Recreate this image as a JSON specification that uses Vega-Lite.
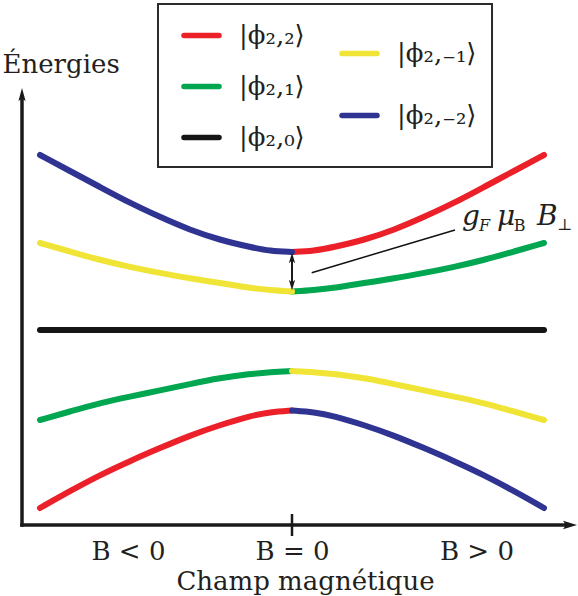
{
  "$schema": "https://vega.github.io/schema/vega-lite/v6.json",
  "width": 556,
  "height": 525,
  "autosize": {"type": "none"},
  "padding": {"left": 22, "top": 0, "right": 0, "bottom": 71},
  "background": "white",
  "config": {"view": {"stroke": null}, "font": "DejaVu Serif"},
  "datasets": {
    "curves": [
      {"s": "|ϕ₂,₋₂⟩", "g": "a", "B": -1, "E": 1.75},
      {"s": "|ϕ₂,₋₂⟩", "g": "a", "B": -0.881, "E": 1.59},
      {"s": "|ϕ₂,₋₂⟩", "g": "a", "B": -0.762, "E": 1.43},
      {"s": "|ϕ₂,₋₂⟩", "g": "a", "B": -0.643, "E": 1.27},
      {"s": "|ϕ₂,₋₂⟩", "g": "a", "B": -0.524, "E": 1.13},
      {"s": "|ϕ₂,₋₂⟩", "g": "a", "B": -0.405, "E": 1.0},
      {"s": "|ϕ₂,₋₂⟩", "g": "a", "B": -0.286, "E": 0.9},
      {"s": "|ϕ₂,₋₂⟩", "g": "a", "B": -0.167, "E": 0.83},
      {"s": "|ϕ₂,₋₂⟩", "g": "a", "B": -0.087, "E": 0.79},
      {"s": "|ϕ₂,₋₂⟩", "g": "a", "B": 0, "E": 0.78},
      {"s": "|ϕ₂,₂⟩", "g": "b", "B": 0, "E": 0.78},
      {"s": "|ϕ₂,₂⟩", "g": "b", "B": 0.087, "E": 0.79},
      {"s": "|ϕ₂,₂⟩", "g": "b", "B": 0.167, "E": 0.83},
      {"s": "|ϕ₂,₂⟩", "g": "b", "B": 0.286, "E": 0.9},
      {"s": "|ϕ₂,₂⟩", "g": "b", "B": 0.405, "E": 1.0},
      {"s": "|ϕ₂,₂⟩", "g": "b", "B": 0.524, "E": 1.13},
      {"s": "|ϕ₂,₂⟩", "g": "b", "B": 0.643, "E": 1.27},
      {"s": "|ϕ₂,₂⟩", "g": "b", "B": 0.762, "E": 1.43},
      {"s": "|ϕ₂,₂⟩", "g": "b", "B": 0.881, "E": 1.59},
      {"s": "|ϕ₂,₂⟩", "g": "b", "B": 1, "E": 1.75},
      {"s": "|ϕ₂,₋₁⟩", "g": "c", "B": -1, "E": 0.87},
      {"s": "|ϕ₂,₋₁⟩", "g": "c", "B": -0.881, "E": 0.785},
      {"s": "|ϕ₂,₋₁⟩", "g": "c", "B": -0.762, "E": 0.7},
      {"s": "|ϕ₂,₋₁⟩", "g": "c", "B": -0.643, "E": 0.63},
      {"s": "|ϕ₂,₋₁⟩", "g": "c", "B": -0.524, "E": 0.57},
      {"s": "|ϕ₂,₋₁⟩", "g": "c", "B": -0.405, "E": 0.515},
      {"s": "|ϕ₂,₋₁⟩", "g": "c", "B": -0.286, "E": 0.47},
      {"s": "|ϕ₂,₋₁⟩", "g": "c", "B": -0.167, "E": 0.42},
      {"s": "|ϕ₂,₋₁⟩", "g": "c", "B": -0.087, "E": 0.4},
      {"s": "|ϕ₂,₋₁⟩", "g": "c", "B": 0, "E": 0.385},
      {"s": "|ϕ₂,₁⟩", "g": "d", "B": 0, "E": 0.385},
      {"s": "|ϕ₂,₁⟩", "g": "d", "B": 0.087, "E": 0.4},
      {"s": "|ϕ₂,₁⟩", "g": "d", "B": 0.167, "E": 0.42},
      {"s": "|ϕ₂,₁⟩", "g": "d", "B": 0.286, "E": 0.47},
      {"s": "|ϕ₂,₁⟩", "g": "d", "B": 0.405, "E": 0.515},
      {"s": "|ϕ₂,₁⟩", "g": "d", "B": 0.524, "E": 0.57},
      {"s": "|ϕ₂,₁⟩", "g": "d", "B": 0.643, "E": 0.63},
      {"s": "|ϕ₂,₁⟩", "g": "d", "B": 0.762, "E": 0.7},
      {"s": "|ϕ₂,₁⟩", "g": "d", "B": 0.881, "E": 0.785},
      {"s": "|ϕ₂,₁⟩", "g": "d", "B": 1, "E": 0.87},
      {"s": "|ϕ₂,₀⟩", "g": "e", "B": -1, "E": 0},
      {"s": "|ϕ₂,₀⟩", "g": "e", "B": 1, "E": 0},
      {"s": "|ϕ₂,₁⟩", "g": "f", "B": -1, "E": -0.9},
      {"s": "|ϕ₂,₁⟩", "g": "f", "B": -0.881, "E": -0.815},
      {"s": "|ϕ₂,₁⟩", "g": "f", "B": -0.762, "E": -0.73},
      {"s": "|ϕ₂,₁⟩", "g": "f", "B": -0.643, "E": -0.665},
      {"s": "|ϕ₂,₁⟩", "g": "f", "B": -0.524, "E": -0.605},
      {"s": "|ϕ₂,₁⟩", "g": "f", "B": -0.405, "E": -0.54},
      {"s": "|ϕ₂,₁⟩", "g": "f", "B": -0.286, "E": -0.48},
      {"s": "|ϕ₂,₁⟩", "g": "f", "B": -0.167, "E": -0.44},
      {"s": "|ϕ₂,₁⟩", "g": "f", "B": -0.087, "E": -0.42},
      {"s": "|ϕ₂,₁⟩", "g": "f", "B": 0, "E": -0.41},
      {"s": "|ϕ₂,₋₁⟩", "g": "g", "B": 0, "E": -0.41},
      {"s": "|ϕ₂,₋₁⟩", "g": "g", "B": 0.087, "E": -0.42},
      {"s": "|ϕ₂,₋₁⟩", "g": "g", "B": 0.167, "E": -0.44},
      {"s": "|ϕ₂,₋₁⟩", "g": "g", "B": 0.286, "E": -0.48},
      {"s": "|ϕ₂,₋₁⟩", "g": "g", "B": 0.405, "E": -0.54},
      {"s": "|ϕ₂,₋₁⟩", "g": "g", "B": 0.524, "E": -0.605},
      {"s": "|ϕ₂,₋₁⟩", "g": "g", "B": 0.643, "E": -0.665},
      {"s": "|ϕ₂,₋₁⟩", "g": "g", "B": 0.762, "E": -0.73},
      {"s": "|ϕ₂,₋₁⟩", "g": "g", "B": 0.881, "E": -0.815},
      {"s": "|ϕ₂,₋₁⟩", "g": "g", "B": 1, "E": -0.9},
      {"s": "|ϕ₂,₂⟩", "g": "h", "B": -1, "E": -1.78},
      {"s": "|ϕ₂,₂⟩", "g": "h", "B": -0.881, "E": -1.61},
      {"s": "|ϕ₂,₂⟩", "g": "h", "B": -0.762, "E": -1.45},
      {"s": "|ϕ₂,₂⟩", "g": "h", "B": -0.643, "E": -1.31},
      {"s": "|ϕ₂,₂⟩", "g": "h", "B": -0.524, "E": -1.18},
      {"s": "|ϕ₂,₂⟩", "g": "h", "B": -0.405, "E": -1.055},
      {"s": "|ϕ₂,₂⟩", "g": "h", "B": -0.286, "E": -0.95},
      {"s": "|ϕ₂,₂⟩", "g": "h", "B": -0.167, "E": -0.86},
      {"s": "|ϕ₂,₂⟩", "g": "h", "B": -0.087, "E": -0.82},
      {"s": "|ϕ₂,₂⟩", "g": "h", "B": 0, "E": -0.805},
      {"s": "|ϕ₂,₋₂⟩", "g": "i", "B": 0, "E": -0.805},
      {"s": "|ϕ₂,₋₂⟩", "g": "i", "B": 0.087, "E": -0.82},
      {"s": "|ϕ₂,₋₂⟩", "g": "i", "B": 0.167, "E": -0.86},
      {"s": "|ϕ₂,₋₂⟩", "g": "i", "B": 0.286, "E": -0.95},
      {"s": "|ϕ₂,₋₂⟩", "g": "i", "B": 0.405, "E": -1.055},
      {"s": "|ϕ₂,₋₂⟩", "g": "i", "B": 0.524, "E": -1.18},
      {"s": "|ϕ₂,₋₂⟩", "g": "i", "B": 0.643, "E": -1.31},
      {"s": "|ϕ₂,₋₂⟩", "g": "i", "B": 0.762, "E": -1.45},
      {"s": "|ϕ₂,₋₂⟩", "g": "i", "B": 0.881, "E": -1.61},
      {"s": "|ϕ₂,₋₂⟩", "g": "i", "B": 1, "E": -1.78}
    ]
  },
  "layer": [
    {
      "data": {"name": "curves"},
      "transform": [{"filter": {"field": "s", "oneOf": ["|ϕ₂,₂⟩", "|ϕ₂,₁⟩", "|ϕ₂,₀⟩"]}}],
      "mark": {"type": "line", "strokeWidth": 6, "strokeCap": "round", "interpolate": "basis"},
      "encoding": {
        "x": {
          "field": "B", "type": "quantitative",
          "scale": {"domain": [-1.0714, 1.1349], "nice": false, "zero": false},
          "axis": {
            "values": [-0.651, 0, 0.732],
            "labelExpr": "datum.value < -0.1 ? 'B < 0' : (datum.value > 0.1 ? 'B > 0' : 'B = 0')",
            "domain": false, "ticks": false, "tickSize": 0, "grid": false,
            "labelFont": "DejaVu Serif", "labelFontSize": 26, "labelPadding": 34,
            "labelBaseline": "alphabetic", "labelColor": "#231f20", "labelFlush": false, "labelOverlap": false,
            "title": "Champ magnétique", "titleFont": "DejaVu Serif", "titleFontSize": 26, "titleFontWeight": "normal",
            "titleX": 283, "titleY": 64, "titleBaseline": "alphabetic", "titleAlign": "center", "titleColor": "#231f20"
          }
        },
        "y": {
          "field": "E", "type": "quantitative",
          "scale": {"domain": [-1.95, 3.3], "nice": false, "zero": false},
          "axis": {
            "domain": false, "ticks": false, "labels": false, "grid": false,
            "title": "Énergies", "titleFont": "DejaVu Serif", "titleFontSize": 26, "titleFontWeight": "normal",
            "titleAngle": 0, "titleAlign": "left", "titleBaseline": "alphabetic", "titleX": -20, "titleY": 72, "titleColor": "#231f20"
          }
        },
        "detail": {"field": "g"},
        "color": {
          "field": "s", "type": "nominal",
          "scale": {"domain": ["|ϕ₂,₂⟩", "|ϕ₂,₁⟩", "|ϕ₂,₀⟩"], "range": ["#ec2028", "#00a650", "#151515"]},
          "legend": {
            "orient": "none", "legendX": 159, "legendY": 15, "title": null, "padding": 0,
            "symbolType": "stroke", "symbolSize": 1225, "symbolStrokeWidth": 5.5,
            "labelFont": "DejaVu Serif", "labelFontSize": 26, "labelOffset": 17, "labelColor": "#231f20", "labelLimit": 300,
            "rowPadding": 17,
            "encode": {"symbols": {"update": {"strokeCap": {"value": "round"}}}}
          }
        }
      }
    },
    {
      "data": {"name": "curves"},
      "transform": [{"filter": {"field": "s", "oneOf": ["|ϕ₂,₋₁⟩", "|ϕ₂,₋₂⟩"]}}],
      "mark": {"type": "line", "strokeWidth": 6, "strokeCap": "round", "interpolate": "basis"},
      "encoding": {
        "x": {"field": "B", "type": "quantitative"},
        "y": {"field": "E", "type": "quantitative"},
        "detail": {"field": "g"},
        "color": {
          "field": "s", "type": "nominal",
          "scale": {"domain": ["|ϕ₂,₋₁⟩", "|ϕ₂,₋₂⟩"], "range": ["#f0e536", "#2f3391"]},
          "legend": {
            "orient": "none", "legendX": 317, "legendY": 33, "title": null, "padding": 0,
            "symbolType": "stroke", "symbolSize": 1225, "symbolStrokeWidth": 5.5,
            "labelFont": "DejaVu Serif", "labelFontSize": 26, "labelOffset": 17, "labelColor": "#231f20", "labelLimit": 300,
            "rowPadding": 28,
            "encode": {"symbols": {"update": {"strokeCap": {"value": "round"}}}}
          }
        }
      }
    },
    {
      "data": {"values": [{}]},
      "mark": {"type": "rect", "fill": "transparent", "stroke": "#2b2b2b", "strokeWidth": 2},
      "encoding": {
        "x": {"datum": -0.5317, "type": "quantitative"},
        "x2": {"datum": 0.7937},
        "y": {"datum": 3.26, "type": "quantitative"},
        "y2": {"datum": 1.63}
      }
    },
    {
      "data": {"values": [{}]},
      "mark": {"type": "rule", "strokeWidth": 3.5, "color": "#1a1a1a", "strokeCap": "square"},
      "encoding": {
        "x": {"datum": -1.0714, "type": "quantitative"},
        "x2": {"datum": 1.09},
        "y": {"datum": -1.95, "type": "quantitative"}
      }
    },
    {
      "data": {"values": [{}]},
      "mark": {"type": "rule", "strokeWidth": 3.5, "color": "#1a1a1a", "strokeCap": "square"},
      "encoding": {
        "x": {"datum": -1.0714, "type": "quantitative"},
        "y": {"datum": -1.95, "type": "quantitative"},
        "y2": {"datum": 2.3}
      }
    },
    {
      "data": {"values": [{}]},
      "mark": {"type": "point", "filled": true, "color": "#1a1a1a", "opacity": 1, "strokeWidth": 0, "shape": "M1,0L-1,-0.6L-0.6,0L-1,0.6Z", "size": 196},
      "encoding": {
        "x": {"datum": 1.1032, "type": "quantitative"},
        "y": {"datum": -1.95, "type": "quantitative"}
      }
    },
    {
      "data": {"values": [{}]},
      "mark": {"type": "point", "filled": true, "color": "#1a1a1a", "opacity": 1, "strokeWidth": 0, "shape": "M0,-1L0.55,1L0,0.6L-0.55,1Z", "size": 169},
      "encoding": {
        "x": {"datum": -1.0714, "type": "quantitative"},
        "y": {"datum": 2.355, "type": "quantitative"}
      }
    },
    {
      "data": {"values": [{}]},
      "mark": {"type": "rule", "strokeWidth": 2.5, "color": "#1a1a1a"},
      "encoding": {
        "x": {"datum": 0, "type": "quantitative"},
        "y": {"datum": -1.84, "type": "quantitative"},
        "y2": {"datum": -2.06}
      }
    },
    {
      "data": {"values": [{}]},
      "mark": {"type": "rule", "strokeWidth": 2, "color": "#1a1a1a"},
      "encoding": {
        "x": {"datum": 0, "type": "quantitative"},
        "y": {"datum": 0.74, "type": "quantitative"},
        "y2": {"datum": 0.43}
      }
    },
    {
      "data": {"values": [{}]},
      "mark": {"type": "point", "filled": true, "color": "#1a1a1a", "opacity": 1, "strokeWidth": 0, "shape": "M0,-1L0.6,1L0,0.5L-0.6,1Z", "size": 110},
      "encoding": {
        "x": {"datum": 0, "type": "quantitative"},
        "y": {"datum": 0.72, "type": "quantitative"}
      }
    },
    {
      "data": {"values": [{}]},
      "mark": {"type": "point", "filled": true, "color": "#1a1a1a", "opacity": 1, "strokeWidth": 0, "shape": "M0,1L0.6,-1L0,-0.5L-0.6,-1Z", "size": 110},
      "encoding": {
        "x": {"datum": 0, "type": "quantitative"},
        "y": {"datum": 0.45, "type": "quantitative"}
      }
    },
    {
      "data": {"values": [{}]},
      "mark": {"type": "rule", "strokeWidth": 1.5, "color": "#111111"},
      "encoding": {
        "x": {"datum": 0.0782, "type": "quantitative"},
        "y": {"datum": 0.573, "type": "quantitative"},
        "x2": {"datum": 0.6468},
        "y2": {"datum": 1.0}
      }
    },
    {
      "data": {"values": [{"t": "g", "B": 0.6746, "E": 1.05}, {"t": "μ", "B": 0.8135, "E": 1.05}, {"t": "B", "B": 0.972, "E": 1.05}]},
      "mark": {"type": "text", "font": "DejaVu Serif", "fontStyle": "italic", "fontSize": 28, "align": "left", "baseline": "alphabetic", "color": "#231f20"},
      "encoding": {
        "x": {"field": "B", "type": "quantitative"},
        "y": {"field": "E", "type": "quantitative"},
        "text": {"field": "t"}
      }
    },
    {
      "data": {"values": [{"t": "F", "B": 0.742, "E": 0.99}]},
      "mark": {"type": "text", "font": "DejaVu Serif", "fontStyle": "italic", "fontSize": 16, "align": "left", "baseline": "alphabetic", "color": "#231f20"},
      "encoding": {
        "x": {"field": "B", "type": "quantitative"},
        "y": {"field": "E", "type": "quantitative"},
        "text": {"field": "t"}
      }
    },
    {
      "data": {"values": [{"t": "B", "B": 0.88, "E": 0.99}, {"t": "⊥", "B": 1.052, "E": 1.0}]},
      "mark": {"type": "text", "font": "DejaVu Serif", "fontSize": 16, "align": "left", "baseline": "alphabetic", "color": "#231f20"},
      "encoding": {
        "x": {"field": "B", "type": "quantitative"},
        "y": {"field": "E", "type": "quantitative"},
        "text": {"field": "t"}
      }
    }
  ],
  "resolve": {"scale": {"color": "independent"}, "legend": {"color": "independent"}}
}
